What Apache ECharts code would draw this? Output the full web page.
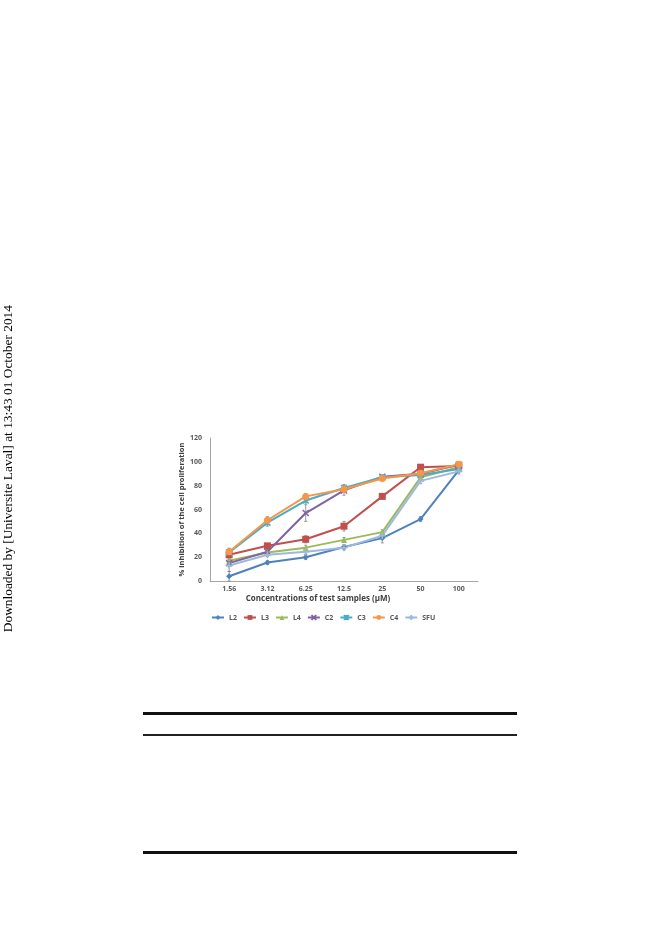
<!DOCTYPE html>
<html><head><meta charset="utf-8">
<script src="https://cdn.jsdelivr.net/npm/echarts@6/dist/echarts.min.js"></script>
<style>html,body{margin:0;padding:0;background:#fff}#c{width:657px;height:936px}</style>
</head><body><div id="c"></div>
<script>
const categories = ['1.56','3.12','6.25','12.5','25','50','100'];
const seriesNames = ['L2','L3','L4','C2','C3','C4','SFU'];
const L2 = [4, 15.5, 20, 28.5, 36, 52, 93];
const L3 = [22, 29.5, 35, 46, 71, 95.5, 96.5];
const L4 = [17, 24, 28, 34.5, 41, 87, 95.5];
const C2 = [15, 24.5, 57, 76, 87.5, 90, 97.5];
const C3 = [24, 49, 67.5, 78, 87, 89, 94];
const C4 = [24.5, 51, 71, 77, 86, 90.5, 98];
const SFU = [13, 22, 24.5, 28, 38, 84, 92];
const errL2 = [4, 1.5, 2, 2, 4, 2, 2];
const errL3 = [2, 2, 3, 4, 2, 2, 1.5];
const errL4 = [2, 1.5, 2, 2, 2, 2, 1.5];
const errC2 = [3, 2, 7, 4, 1.5, 1.5, 1.5];
const errC3 = [3, 3, 2, 3, 1.5, 1.5, 1.5];
const errC4 = [3, 3, 2, 2, 1.5, 1.5, 1.5];
const errSFU = [5, 1.5, 2, 2, 3, 2, 2];
const yTicks = [0, 20, 40, 60, 80, 100, 120];

const values = [L2, L3, L4, C2, C3, C4, SFU];
const errors = [errL2, errL3, errL4, errC2, errC3, errC4, errSFU];
const colors = ['#4F81BD','#C0504D','#9BBB59','#8064A2','#4BACC6','#F79646','#9DB9E0'];
const xPath = 'path://M0,0L10,10M10,0L0,10';
const starPath = 'path://M0,0L10,10M10,0L0,10M5,0L5,10';
const plusPath = 'path://M5,0L5,10M0,5L10,5';
const symbols = ['diamond','rect','triangle', xPath, starPath, 'circle', plusPath];
const sizes = [6,7,6,6,6,7,7];

const chart = echarts.init(document.getElementById('c'), null, {renderer:'canvas'});
const FONT = '"Open Sans"';
const labelFont = {fontFamily:FONT, fontWeight:'bold', fontSize:7, color:'#595959'};

const series = [];
values.forEach((v,i)=>{
  series.push({
    name: seriesNames[i], type:'line', data:v,
    symbol: symbols[i], symbolSize: sizes[i],
    itemStyle:{color:colors[i], borderColor:colors[i], borderWidth: (i===3||i===4||i===6)?1.5:0},
    lineStyle:{color:colors[i], width:2},
    z: 3
  });
});
values.forEach((v,i)=>{
  series.push({
    type:'custom', name: seriesNames[i]+'_err', silent:true, z:2,
    data: v.map((y,k)=>[k, y - errors[i][k], y + errors[i][k]]),
    renderItem: function(params, api){
      const x = api.value(0);
      const lo = api.coord([x, api.value(1)]);
      const hi = api.coord([x, api.value(2)]);
      const w = 1.5;
      const st = {stroke:'#808080', lineWidth:0.8};
      return {type:'group', children:[
        {type:'line', shape:{x1:lo[0],y1:lo[1],x2:hi[0],y2:hi[1]}, style:st},
        {type:'line', shape:{x1:lo[0]-w,y1:lo[1],x2:lo[0]+w,y2:lo[1]}, style:st},
        {type:'line', shape:{x1:hi[0]-w,y1:hi[1],x2:hi[0]+w,y2:hi[1]}, style:st}
      ]};
    }
  });
});

chart.setOption({
  animation:false,
  backgroundColor:'#fff',
  grid:{left:210, right:179, top:438, bottom:355, containLabel:false},
  xAxis:{type:'category', data:categories, boundaryGap:true,
    axisLine:{lineStyle:{color:'#A6A6A6', width:1}}, axisTick:{show:false},
    axisLabel:Object.assign({margin:4}, labelFont),
    name:'Concentrations of test samples (µM)', nameLocation:'middle', nameGap:14,
    nameTextStyle:{fontFamily:FONT, fontWeight:'bold', fontSize:8, color:'#404040', padding:[0,52,0,0]}
  },
  yAxis:{type:'value', min:yTicks[0], max:yTicks[yTicks.length-1], interval:20,
    splitLine:{show:false},
    axisLine:{show:true, lineStyle:{color:'#A6A6A6', width:1}}, axisTick:{show:false},
    axisLabel:Object.assign({margin:8}, labelFont),
    name:'% inhibition of the cell proliferation', nameLocation:'middle', nameGap:23,
    nameTextStyle:{fontFamily:FONT, fontWeight:'bold', fontSize:7.5, color:'#404040'}
  },
  legend:{data:seriesNames, top:609, left:206, itemWidth:12, itemHeight:6, itemGap:6,
    textStyle:{fontFamily:FONT, fontWeight:'bold', fontSize:7, color:'#595959'}},
  graphic:[
    {type:'text', left:2, top:305, rotation:Math.PI/2, style:{text:'Downloaded by [Universite Laval] at 13:43 01 October 2014', font:'13.4px "Liberation Serif"', fill:'#000'}},
    {type:'rect', shape:{x:143, y:712, width:374, height:3}, style:{fill:'#111'}},
    {type:'rect', shape:{x:143, y:734, width:374, height:2}, style:{fill:'#222'}},
    {type:'rect', shape:{x:143, y:851, width:374, height:3}, style:{fill:'#111'}}
  ],
  series: series
});
</script></body></html>
